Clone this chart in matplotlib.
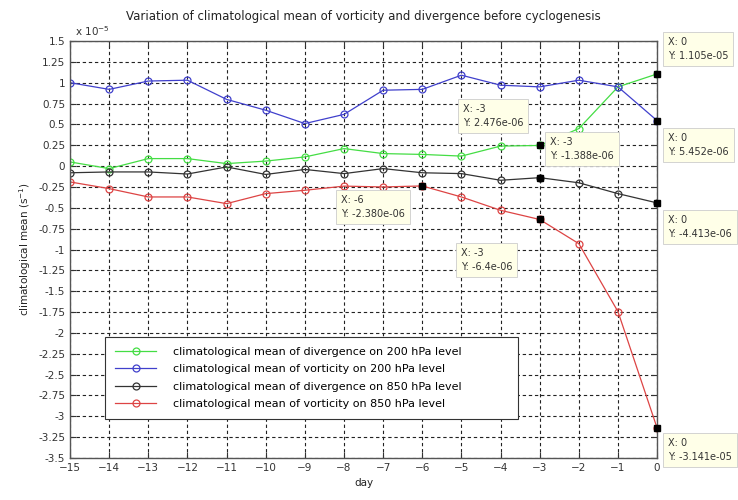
import numpy as np
import matplotlib
matplotlib.use("Agg")
import matplotlib.pyplot as plt

# values in units of 1e-5 s^-1
days = [-15, -14, -13, -12, -11, -10, -9, -8, -7, -6, -5, -4, -3, -2, -1, 0]
div200 = [0.05, -0.03, 0.09, 0.09, 0.03, 0.06, 0.11, 0.21, 0.15, 0.14, 0.12, 0.24, 0.2476, 0.45, 0.95, 1.105]
vor200 = [1.0, 0.92, 1.02, 1.03, 0.80, 0.67, 0.51, 0.62, 0.91, 0.92, 1.09, 0.97, 0.95, 1.03, 0.95, 0.5452]
div850 = [-0.08, -0.07, -0.07, -0.095, -0.01, -0.10, -0.04, -0.09, -0.03, -0.08, -0.09, -0.17, -0.1388, -0.20, -0.33, -0.4413]
vor850 = [-0.19, -0.27, -0.37, -0.37, -0.45, -0.33, -0.29, -0.24, -0.25, -0.238, -0.37, -0.53, -0.64, -0.93, -1.745, -3.141]

labels = ["climatological mean of divergence on 200 hPa level",
          "climatological mean of vorticity on 200 hPa level",
          "climatological mean of divergence on 850 hPa level",
          "climatological mean of vorticity on 850 hPa level"]
colors = ["#44dd44", "#4040cc", "#333333", "#dd4444"]

# data tips: (x, y, text x, text y, label)
tips = [
    (-3, 0.2476, -4.96, 0.60, "X: -3\nY: 2.476e-06"),
    (-3, -0.1388, -2.73, 0.205, "X: -3\nY: -1.388e-06"),
    (-6, -0.238, -8.07, -0.49, "X: -6\nY: -2.380e-06"),
    (-3, -0.64, -5.01, -1.126, "X: -3\nY: -6.4e-06"),
    (0, 1.105, 0.28, 1.404, "X: 0\nY: 1.105e-05"),
    (0, 0.5452, 0.28, 0.253, "X: 0\nY: 5.452e-06"),
    (0, -0.4413, 0.28, -0.73, "X: 0\nY: -4.413e-06"),
    (0, -3.141, 0.28, -3.40, "X: 0\nY: -3.141e-05"),
]

fig = plt.figure(figsize=(7.38, 5.0), dpi=100)
ax = fig.add_axes([0.0949, 0.084, 0.7955, 0.834])

for ys, c, lab in zip([div200, vor200, div850, vor850], colors, labels):
    ax.plot(days, ys, color=c, lw=0.9, marker="o", ms=5, mfc="none", mec=c, mew=0.9, label=lab)

for x, y, tx, ty, t in tips:
    ax.plot(x, y, "s", color="black", ms=5, clip_on=False, zorder=5)
    ax.text(tx, ty, t, fontsize=7, ha="left", va="center", color="#333333", clip_on=False,
            linespacing=1.5,
            bbox=dict(boxstyle="square,pad=0.5", fc="#ffffe8", ec="#cccccc", lw=0.6))

ax.set_xlim(-15, 0)
ax.set_ylim(-3.5, 1.5)
ax.set_xticks(np.arange(-15, 1, 1))
yt = np.arange(-3.5, 1.51, 0.25)
ax.set_yticks(yt)
ax.set_yticklabels(["%g" % round(v, 2) for v in yt])
ax.tick_params(direction="in", top=True, right=True, labelsize=7.5, colors="#333333", length=4)
ax.grid(True, color="#222222", ls=(0, (3, 2.5)), lw=0.8)
for s in ax.spines.values():
    s.set_color("#555555")
    s.set_linewidth(1.0)

ax.text(0.008, 1.006, r"x 10$^{-5}$", transform=ax.transAxes, fontsize=7.5, color="#333333", va="bottom")
ax.set_title("Variation of climatological mean of vorticity and divergence before cyclogenesis",
             fontsize=8.5, color="#222222", pad=15)
ax.set_xlabel("day", fontsize=7.5, color="#222222")
ax.set_ylabel("climatological mean (s$^{-1}$)", fontsize=7.5, color="#222222", labelpad=4)

leg = ax.legend(loc="upper left", bbox_to_anchor=(0.0596, 0.091, 0.704, 0.199), mode="expand",
                fontsize=8, frameon=True, fancybox=False, framealpha=1, edgecolor="#333333",
                handlelength=3.7, handletextpad=1.5, borderpad=0.9, labelspacing=0.65,
                borderaxespad=0)
leg.get_frame().set_linewidth(0.8)

plt.savefig("out.png", dpi=100)
